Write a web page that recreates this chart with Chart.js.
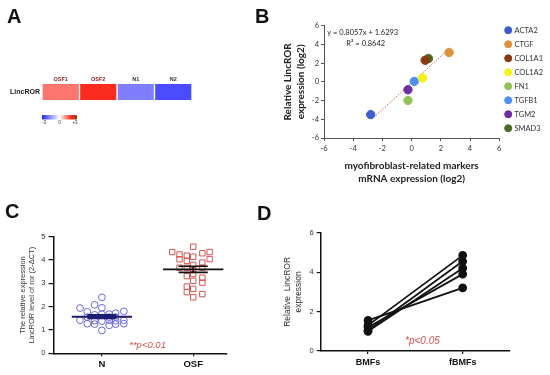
<!DOCTYPE html>
<html>
<head>
<meta charset="utf-8">
<script src="https://cdn.jsdelivr.net/npm/chart.js@4.4.1/dist/chart.umd.min.js"></script>
<style>
    html, body { margin: 0; padding: 0; background: #fff; }
    #page { position: relative; width: 550px; height: 375px; overflow: hidden; }
    canvas { position: absolute; }
    .tag { position: absolute; font: bold 20px "Liberation Sans", Arial, sans-serif; color: #111; line-height: 1; }
</style>
</head>
<body>
<div id="page">
    <canvas id="heatmapChart" width="275" height="190" style="left:0;top:0"></canvas>
    <canvas id="markerChart" width="275" height="190" style="left:275px;top:0"></canvas>
    <canvas id="tissueChart" width="275" height="185" style="left:0;top:190px"></canvas>
    <canvas id="pairedChart" width="275" height="185" style="left:275px;top:190px"></canvas>
    <div class="tag" style="left:7px;top:6px">A</div>
    <div class="tag" style="left:255px;top:6px">B</div>
    <div class="tag" style="left:5px;top:201px">C</div>
    <div class="tag" style="left:257px;top:203px">D</div>
</div>
<script>
// A: heatmap of LincROR (log2 fold change)
const heatRow = ['LincROR'];
const heatSamples = ['OSF1', 'OSF2', 'N1', 'N2'];
const heatValues = [1.3, 2.0, -1.8, -2.5];
const heatScaleLabels = ['-3', '0', '+3'];

// B: marker correlation
const markerNames = ['ACTA2', 'CTGF', 'COL1A1', 'COL1A2', 'FN1', 'TGFB1', 'TGM2', 'SMAD3'];
const markerX = [-2.8, 2.57, 0.93, 0.75, -0.25, 0.18, -0.25, 1.15];
const markerY = [-3.5, 3.14, 2.31, 0.41, -1.99, 0.05, -0.84, 2.49];
const fitX = [-2.6, 2.4];
const fitY = [-3.8, 3.3];
const fitText = ['y = 0.8057x + 1.6293', 'R\u00b2 = 0.8642'];

// C: tissue samples
const tissueGroups = ['N', 'OSF'];
const normalJitter = [0, -0.24, -0.08, 0, -0.16, -0.08, 0, 0.08, 0.15, 0.24, -0.16, 0.08, 0.15,
    -0.24, -0.08, 0, 0.08, 0.15, 0.24, -0.16, -0.08, 0.08, 0.15, 0.24, 0];
const normalValues = [2.4, 1.94, 2.08, 1.95, 1.78, 1.65, 1.68, 1.68, 1.72, 1.8, 1.55, 1.55, 1.55,
    1.42, 1.4, 1.38, 1.42, 1.4, 1.42, 1.27, 1.25, 1.2, 1.25, 1.27, 0.98];
const osfJitter = [0, -0.23, -0.15, -0.07, 0, 0.1, 0.18, 0.18, -0.15, -0.07, 0, 0.1, -0.15,
    -0.07, 0, 0.1, -0.07, 0, 0.1, 0, 0.1, -0.07, 0, -0.07, 0, 0.1];
const osfValues = [4.57, 4.34, 4.24, 4.19, 4.14, 4.29, 4.34, 4.04, 4.03, 3.97, 3.79, 3.89, 3.67,
    3.67, 3.57, 3.67, 3.31, 3.4, 3.24, 3.11, 3.03, 2.86, 2.76, 2.62, 2.4, 2.54];
const tissueMeans = [1.57, 3.6];
const tissueSem = [0.07, 0.13];

// D: paired fibroblasts
const cellGroups = ['BMFs', 'fBMFs'];
const bmfValues = [1.55, 1.3, 1.2, 1.05, 1.0];
const fbmfValues = [3.2, 4.85, 3.9, 4.55, 4.2];

const heatStops = [[-3, [40, 40, 255]], [0, [255, 255, 255]], [2, [250, 44, 30]], [3, [140, 62, 30]]];
const markerColors = ['#3f5ccf', '#df923c', '#8a3a12', '#f2f218', '#93c256', '#4f8ef2', '#6e2fa3', '#4b6a22'];

const sans = '"Liberation Sans", Arial, sans-serif';
const lato = 'Lato, "Liberation Sans", sans-serif';

function heatColor(value) {
    for (let i = 1; i < heatStops.length; i++) {
        const [v0, c0] = heatStops[i - 1];
        const [v1, c1] = heatStops[i];
        if (value <= v1) {
            const t = Math.max(0, (value - v0) / (v1 - v0));
            const c = c0.map((ch, k) => Math.round(ch + (c1[k] - ch) * t));
            return `rgb(${c.join(',')})`;
        }
    }
    return `rgb(${heatStops[heatStops.length - 1][1].join(',')})`;
}

const colorBarPlugin = {
    id: 'colorBar',
    afterDraw(chart) {
        const { ctx, chartArea } = chart;
        const x0 = chartArea.left;
        const y0 = chartArea.bottom + 15;
        const w = 35;
        const h = 4.5;
        const grad = ctx.createLinearGradient(x0, 0, x0 + w, 0);
        heatStops.forEach(([v, c]) => grad.addColorStop((v + 3) / 6, `rgb(${c.join(',')})`));
        ctx.save();
        ctx.fillStyle = grad;
        ctx.fillRect(x0, y0, w, h);
        ctx.font = `4.5px ${sans}`;
        ctx.fillStyle = '#333';
        ctx.textAlign = 'center';
        ctx.textBaseline = 'top';
        heatScaleLabels.forEach((t, i) => ctx.fillText(t, x0 + 2 + i * (w - 4) / 2, y0 + h + 1));
        ctx.restore();
    },
};

// text placed at a data position, e.g. p-values and the fit equation
const noteTextPlugin = {
    id: 'noteText',
    afterDatasetsDraw(chart, args, opts) {
        if (!opts.lines) return;
        const { ctx, scales } = chart;
        ctx.save();
        ctx.font = opts.font;
        ctx.fillStyle = opts.color;
        ctx.textAlign = 'center';
        ctx.textBaseline = 'middle';
        const x = scales.x.getPixelForValue(opts.x);
        const y = scales.y.getPixelForValue(opts.y);
        opts.lines.forEach((line, i) => ctx.fillText(line, x + (opts.shift || 0) * i, y + i * (opts.lineHeight || 0)));
        ctx.restore();
    },
};

function buildHeatmap(canvas) {
    return new Chart(canvas, {
        type: 'bar',
        data: {
            labels: heatRow,
            datasets: heatSamples.map((name, i) => ({
                label: name,
                data: [1],
                backgroundColor: heatColor(heatValues[i]),
                borderColor: '#fff',
                borderWidth: { left: 1, right: 1, top: 0, bottom: 0 },
                borderSkipped: false,
                barPercentage: 1,
                categoryPercentage: 1,
            })),
        },
        options: {
            indexAxis: 'y',
            responsive: false,
            animation: false,
            layout: { padding: { left: 2, top: 74, right: 83, bottom: 90 } },
            scales: {
                x: {
                    type: 'linear',
                    position: 'top',
                    stacked: true,
                    min: 0,
                    max: heatSamples.length,
                    afterBuildTicks: (scale) => {
                        scale.ticks = heatSamples.map((_, i) => ({ value: i + 0.5 }));
                    },
                    afterFit: (scale) => { scale.height = 10; },
                    ticks: {
                        callback: (value, index) => heatSamples[index],
                        font: { family: sans, size: 5.5, weight: 'bold' },
                        color: (ctx) => (heatSamples[ctx.index] || '').startsWith('OSF') ? '#8a2020' : '#333',
                        padding: 1.5,
                        maxRotation: 0,
                    },
                    grid: { display: false, drawTicks: false },
                    border: { display: false },
                },
                y: {
                    stacked: true,
                    afterFit: (scale) => { scale.width = 40; },
                    ticks: { font: { family: sans, size: 7, weight: 'bold' }, color: '#222', padding: 2 },
                    grid: { display: false, drawTicks: false },
                    border: { display: false },
                },
            },
            plugins: { legend: { display: false }, tooltip: { enabled: false } },
        },
        plugins: [colorBarPlugin],
    });
}

function buildMarkerScatter(canvas) {
    const axisGrid = { display: true, drawOnChartArea: false, tickLength: 3, color: '#555' };
    const tickFont = { family: lato, size: 7.5 };
    const titleFont = { family: lato, size: 10, weight: 'bold', lineHeight: 1.25 };
    return new Chart(canvas, {
        type: 'scatter',
        data: {
            datasets: [
                ...markerNames.map((name, i) => ({
                    label: name,
                    data: [{ x: markerX[i], y: markerY[i] }],
                    backgroundColor: markerColors[i],
                    borderColor: markerColors[i],
                    pointRadius: 4.2,
                    order: 0,
                })),
                {
                    label: 'fit',
                    data: fitX.map((x, i) => ({ x, y: fitY[i] })),
                    showLine: true,
                    borderColor: '#c8643c',
                    borderWidth: 1,
                    borderDash: [1.5, 1.5],
                    pointRadius: 0,
                    order: 1,
                },
            ],
        },
        options: {
            responsive: false,
            animation: false,
            layout: { padding: { left: 7, top: 20, right: -3, bottom: 5 } },
            scales: {
                x: {
                    type: 'linear',
                    min: -6,
                    max: 6,
                    afterFit: (scale) => { scale.height = 47; },
                    ticks: { stepSize: 2, font: tickFont, color: '#333', padding: 3 },
                    grid: axisGrid,
                    border: { color: '#555' },
                    title: {
                        display: true,
                        text: ['myofibroblast-related markers', 'mRNA expression (log2)'],
                        font: titleFont,
                        color: '#222',
                        padding: 0,
                    },
                },
                y: {
                    min: -6,
                    max: 6,
                    afterFit: (scale) => { scale.width = 42; scale.paddingTop = 25.7; },
                    ticks: { stepSize: 2, font: tickFont, color: '#333', padding: 2 },
                    grid: axisGrid,
                    border: { color: '#555' },
                    title: {
                        display: true,
                        text: ['Relative LincROR', 'expression (log2)'],
                        font: titleFont,
                        color: '#222',
                        padding: 0,
                    },
                },
            },
            plugins: {
                legend: {
                    position: 'right',
                    align: 'start',
                    labels: {
                        usePointStyle: true,
                        pointStyle: 'circle',
                        boxWidth: 5,
                        boxHeight: 5,
                        padding: 6.5,
                        font: { family: lato, size: 7.5 },
                        color: '#333',
                        filter: (item) => item.text !== 'fit',
                    },
                },
                tooltip: { enabled: false },
                noteText: {
                    lines: fitText,
                    x: -3.35,
                    y: 5.3,
                    shift: 3,
                    lineHeight: 11,
                    font: `7.5px ${lato}`,
                    color: '#222',
                },
            },
        },
        plugins: [noteTextPlugin],
    });
}

function summarySegments(g) {
    const c = g + 1;
    const m = tissueMeans[g];
    const s = tissueSem[g];
    const gap = { x: c, y: null };
    return [
        { x: c - 0.33, y: m }, { x: c + 0.33, y: m }, gap,
        { x: c, y: m - s }, { x: c, y: m + s }, gap,
        { x: c - 0.16, y: m + s }, { x: c + 0.16, y: m + s }, gap,
        { x: c - 0.16, y: m - s }, { x: c + 0.16, y: m - s },
    ];
}

function buildTissueDotPlot(canvas) {
    const axisGrid = { display: true, drawOnChartArea: false, tickLength: 5, color: '#111', lineWidth: 1.2 };
    return new Chart(canvas, {
        type: 'scatter',
        data: {
            datasets: [
                {
                    label: 'N mean',
                    data: summarySegments(0),
                    showLine: true,
                    spanGaps: false,
                    borderColor: '#1e1e70',
                    borderWidth: 2,
                    pointRadius: 0,
                    order: 0,
                },
                {
                    label: 'OSF mean',
                    data: summarySegments(1),
                    showLine: true,
                    spanGaps: false,
                    borderColor: '#111',
                    borderWidth: 1.6,
                    pointRadius: 0,
                    order: 0,
                },
                {
                    label: tissueGroups[0],
                    data: normalValues.map((y, i) => ({ x: 1 + normalJitter[i], y })),
                    pointStyle: 'circle',
                    pointRadius: 3.4,
                    borderWidth: 1,
                    borderColor: '#6a68dc',
                    backgroundColor: 'rgba(255,255,255,0)',
                    order: 1,
                },
                {
                    label: tissueGroups[1],
                    data: osfValues.map((y, i) => ({ x: 2 + osfJitter[i], y })),
                    pointStyle: 'rect',
                    pointRadius: 3.8,
                    borderWidth: 1,
                    borderColor: '#d65450',
                    backgroundColor: 'rgba(255,255,255,0)',
                    order: 1,
                },
            ],
        },
        options: {
            responsive: false,
            animation: false,
            layout: { padding: { left: 18.5, top: 46.7, right: 48, bottom: 0 } },
            scales: {
                x: {
                    type: 'linear',
                    min: 0.47,
                    max: 2.37,
                    afterBuildTicks: (scale) => {
                        scale.ticks = tissueGroups.map((_, i) => ({ value: i + 1 }));
                    },
                    afterFit: (scale) => { scale.height = 21.7; },
                    ticks: {
                        callback: (value) => tissueGroups[Math.round(value) - 1],
                        font: { family: sans, size: 9.5, weight: 'bold' },
                        color: '#111',
                        padding: 2,
                    },
                    grid: { ...axisGrid, tickLength: 3 },
                    border: { color: '#111', width: 1.5 },
                },
                y: {
                    min: 0,
                    max: 5,
                    afterFit: (scale) => { scale.width = 35; },
                    ticks: { stepSize: 1, font: { family: sans, size: 7.5 }, color: '#333', padding: 3 },
                    grid: axisGrid,
                    border: { color: '#111', width: 1.5 },
                    title: {
                        display: true,
                        text: ['The relative expression', 'LincROR level of ror (2-\u0394CT)'],
                        font: { family: sans, size: 7.5, lineHeight: 1.2 },
                        color: '#333',
                        padding: 0,
                    },
                },
            },
            plugins: {
                legend: { display: false },
                tooltip: { enabled: false },
                noteText: {
                    lines: ['**p<0.01'],
                    x: 1.5,
                    y: 0.35,
                    font: `italic 9.5px ${sans}`,
                    color: '#d0504a',
                },
            },
        },
        plugins: [noteTextPlugin],
    });
}

function buildPairedPlot(canvas) {
    const axisGrid = { display: true, drawOnChartArea: false, tickLength: 4, color: '#111', lineWidth: 1.2 };
    return new Chart(canvas, {
        type: 'line',
        data: {
            labels: cellGroups,
            datasets: bmfValues.map((v, i) => ({
                label: `pair ${i + 1}`,
                data: [v, fbmfValues[i]],
                borderColor: '#111',
                backgroundColor: '#111',
                borderWidth: 1.8,
                pointRadius: 3.5,
            })),
        },
        options: {
            responsive: false,
            animation: false,
            layout: { padding: { left: 8, top: 42.7, right: 40, bottom: 0 } },
            scales: {
                x: {
                    offset: true,
                    afterFit: (scale) => { scale.height = 24; },
                    ticks: { font: { family: sans, size: 9, weight: 'bold' }, color: '#111', padding: 3 },
                    grid: { ...axisGrid, tickLength: 3, offset: false },
                    border: { color: '#111', width: 1.5 },
                },
                y: {
                    min: 0,
                    max: 6,
                    afterFit: (scale) => { scale.width = 37.7; },
                    ticks: { stepSize: 2, font: { family: sans, size: 7.5 }, color: '#333', padding: 3 },
                    grid: axisGrid,
                    border: { color: '#111', width: 1.5 },
                    title: {
                        display: true,
                        text: ['Relative  LincROR', 'expression'],
                        font: { family: sans, size: 8.5, lineHeight: 1.2 },
                        color: '#333',
                        padding: 0,
                    },
                },
            },
            plugins: {
                legend: { display: false },
                tooltip: { enabled: false },
                noteText: {
                    lines: ['*p<0.05'],
                    x: 0.575,
                    y: 0.5,
                    font: `italic 10px ${sans}`,
                    color: '#d0504a',
                },
            },
        },
        plugins: [noteTextPlugin],
    });
}

buildHeatmap(document.getElementById('heatmapChart'));
buildMarkerScatter(document.getElementById('markerChart'));
buildTissueDotPlot(document.getElementById('tissueChart'));
buildPairedPlot(document.getElementById('pairedChart'));
</script>
</body>
</html>
